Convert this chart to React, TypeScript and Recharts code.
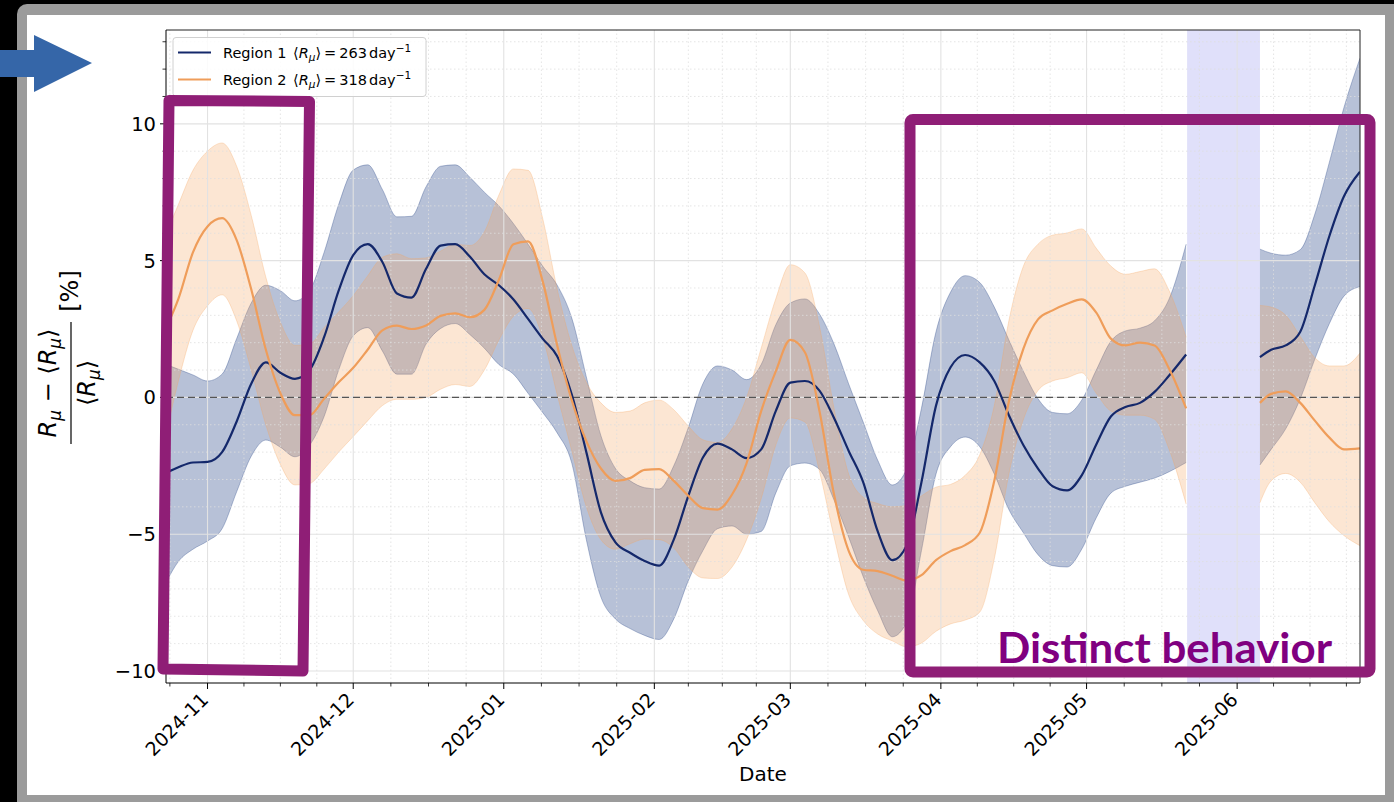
import React from 'react';
import {
  ComposedChart,
  Area,
  Line,
  XAxis,
  YAxis,
  ReferenceLine,
  ReferenceArea,
} from 'recharts';

// x = days since 2024-11-01
const days = [
  -8.5, -6, -3, 0, 3, 6, 9, 12, 15, 18,
  21, 24, 27, 30, 33, 36, 39, 42, 45, 48,
  51, 54, 57, 60, 63, 66, 69, 72, 75, 78,
  81, 84, 87, 90, 93, 96, 99, 102, 105, 108,
  111, 114, 117, 120, 123, 126, 129, 132, 135, 138,
  141, 144, 147, 150, 153, 156, 159, 162, 165, 168,
  171, 174, 177, 180, 183, 186, 189, 192, 195, 198,
  201.5, 209, 216.7, 219, 222, 225, 228, 231, 234, 237.3,
];

const region1Mean = [
  -2.75, -2.55, -2.38, -2.36, -2.0, -0.88, 0.5, 1.28, 0.9, 0.68,
  1.0, 2.2, 3.9, 5.2, 5.6, 4.95, 3.8, 3.65, 4.7, 5.55,
  5.6, 5.15, 4.5, 4.1, 3.58, 2.87, 2.15, 1.5, 0.1, -2.0,
  -4.2, -5.3, -5.68, -5.98, -6.15, -5.2, -3.6, -2.2, -1.69, -1.9,
  -2.22, -1.9, -0.5, 0.54, 0.6, 0.25, -0.75, -1.95, -3.1, -4.9,
  -5.95, -5.4, -3.1, -0.3, 1.1, 1.55, 1.28, 0.6, -0.65, -1.75,
  -2.6, -3.25, -3.4, -2.85, -1.72, -0.7, -0.35, -0.2, 0.2, 0.8,
  1.57, null, 1.47, 1.74, 1.9, 2.4, 4.1, 5.9, 7.35, 8.25,
];
const region1Upper = [
  1.2, 1.03, 0.82, 0.6, 0.85, 2.15, 3.45, 4.1, 3.9, 3.53,
  3.9, 5.3, 7.05, 8.31, 8.5, 7.6, 6.6, 6.62, 7.7, 8.45,
  8.5, 8.05, 7.5, 7.0, 6.35, 5.6, 4.8, 4.1, 2.9, 0.75,
  -1.4, -2.6, -3.05, -3.3, -3.35, -2.5, -1.1, 0.5, 1.15, 1.0,
  0.65, 1.2, 2.65, 3.45, 3.6, 3.05, 1.95, 0.5, -0.9, -2.3,
  -3.2, -2.6, -0.4, 2.4, 3.85, 4.45, 4.2, 3.3, 2.1, 0.95,
  -0.05, -0.55, -0.6, -0.1, 1.0, 2.05, 2.43, 2.53, 2.8, 3.6,
  5.6, null, 5.42, 5.27, 5.2, 5.4, 6.7, 8.6, 10.6, 12.4,
];
const region1Lower = [
  -6.75, -6.0, -5.55, -5.25, -4.8, -3.45, -2.15, -1.56, -1.82, -2.17,
  -1.75, -0.7, 1.0, 2.25, 2.55, 1.7, 0.85, 0.85, 1.95, 2.52,
  2.7, 2.3, 1.8, 1.2, 0.85, 0.15, -0.55, -1.3, -2.4, -5.2,
  -7.3, -8.1, -8.45, -8.7, -8.85, -8.1, -6.7, -5.6, -4.8, -4.7,
  -5.0, -4.9, -3.5, -2.5, -2.4, -2.63, -3.75, -5.1, -6.55, -7.8,
  -8.75, -8.2, -5.6, -2.8, -1.8, -1.45, -1.8, -2.8, -4.1, -4.95,
  -5.75, -6.15, -6.2, -5.55, -4.4, -3.5, -3.25, -3.1, -2.95, -2.72,
  -2.38, null, -2.47, -1.9, -1.15, -0.05, 1.4, 2.7, 3.7, 4.05,
];

const region2Mean = [
  2.55, 3.6, 5.3, 6.25, 6.55, 5.75, 3.95, 1.75, 0.15, -0.65,
  -0.65, -0.05, 0.55, 1.08, 1.75, 2.45, 2.62, 2.5, 2.63, 2.98,
  3.07, 2.93, 3.2, 4.3, 5.6, 5.7, 4.25, 1.9, -0.1, -1.6,
  -2.6, -3.05, -2.95, -2.65, -2.62, -3.05, -3.6, -4.05, -4.1, -3.55,
  -2.4, -0.5, 0.95, 2.1, 1.65, -0.5, -3.55, -5.6, -6.3, -6.35,
  -6.52, -6.69, -6.5, -5.95, -5.62, -5.4, -4.95, -3.05, -0.15, 1.78,
  2.85, 3.18, 3.42, 3.58, 3.1, 2.15, 1.9, 2.0, 1.9, 1.05,
  -0.4, null, -0.2, 0.13, 0.22, -0.2, -0.85, -1.47, -1.9, -1.86,
];
const region2Upper = [
  6.0, 7.05, 8.3, 9.0, 9.3, 8.45, 6.65, 4.4, 2.75, 1.9,
  1.95, 2.55, 3.12, 3.72, 4.45, 5.12, 5.25, 5.07, 5.1, 5.35,
  5.6, 5.55, 6.05, 7.4, 8.35, 8.3, 6.55, 3.95, 1.9, 0.55,
  -0.2, -0.55, -0.5, -0.2, -0.1, -0.45, -1.05, -1.55, -1.65, -1.15,
  0.0, 1.8, 3.6, 4.85, 4.55, 2.6, -0.4, -2.8, -3.65, -3.88,
  -4.0, -3.95, -3.6, -3.28, -3.18, -2.85, -2.1, -0.3, 2.8, 4.8,
  5.6, 5.93, 6.01, 6.16, 5.45, 4.8, 4.5, 4.6, 4.7, 3.9,
  2.2, null, 3.36, 3.3, 3.0, 2.23, 1.45, 1.15, 1.15, 1.62,
];
const region2Lower = [
  -1.3, 0.6, 2.45, 3.35, 3.75, 2.8, 1.0, -1.0, -2.45, -3.2,
  -3.15, -2.62, -2.0, -1.43, -0.85, -0.3, -0.07, -0.07, 0.0, 0.3,
  0.47, 0.4, 1.0, 2.1, 2.97, 3.25, 2.2, 0.1, -1.95, -4.0,
  -5.2, -5.55, -5.35, -5.18, -5.2, -5.5, -6.2, -6.6, -6.62, -6.2,
  -5.2, -3.7, -1.75, -0.75, -0.9, -2.7, -5.1, -7.2, -8.15, -8.65,
  -8.9, -9.12, -8.98, -8.55, -8.28, -8.14, -7.85, -5.9, -2.8, -0.8,
  0.25, 0.6, 0.72, 0.9, 0.15, -0.5, -0.65, -0.65, -0.8, -1.9,
  -3.9, null, -3.85, -3.05, -2.78, -3.1, -3.85, -4.55, -5.05, -5.42,
];

const monthTicks = [0, 30, 61, 92, 120, 151, 181, 212];
const monthLabels = ['2024-11', '2024-12', '2025-01', '2025-02', '2025-03', '2025-04', '2025-05', '2025-06'];
const minorDayTicks = [
  -7.75, 7.5, 15, 22.5, 37.75, 45.5, 53.25, 68.75, 76.5, 84.25,
  99, 106, 113, 127.75, 135.5, 143.25, 158.5, 166, 173.5,
  188.75, 196.5, 204.25, 219.5, 227, 234.5,
];
const yMajorTicks = [-10, -5, 0, 5, 10];
const yMinorTicks = [-9, -8, -7, -6, -4, -3, -2, -1, 1, 2, 3, 4, 6, 7, 8, 9, 11, 12, 13];
const missingSpan = [201.7, 216.7];

const X_MIN = -8.55;
const X_MAX = 237.3;
const Y_MIN = -10.44;
const Y_MAX = 13.43;

const data = days.map((d, i) => ({
  day: d,
  m1: region1Mean[i],
  b1: region1Upper[i] == null ? null : [region1Lower[i], region1Upper[i]],
  m2: region2Mean[i],
  b2: region2Upper[i] == null ? null : [region2Lower[i], region2Upper[i]],
}));

const FONT = 'DejaVu Sans';

const XTick = ({ x, y, payload }: any) => {
  const idx = monthTicks.indexOf(payload.value);
  if (idx < 0) {
    return <line x1={x} x2={x} y1={y} y2={y + 3.5} stroke="#000" strokeWidth={0.8} />;
  }
  return (
    <g>
      <line x1={x} x2={x} y1={y} y2={y + 6} stroke="#000" strokeWidth={1} />
      <text
        x={x + 2}
        y={y + 18}
        textAnchor="end"
        fontSize={19}
        fontFamily={FONT}
        fill="#000"
        transform={`rotate(-45 ${x + 2} ${y + 18})`}
      >
        {monthLabels[idx]}
      </text>
    </g>
  );
};

const YTick = ({ x, y, payload }: any) => {
  const v = payload.value;
  if (!yMajorTicks.includes(v)) {
    return <line x1={x - 3.5} x2={x} y1={y} y2={y} stroke="#000" strokeWidth={0.8} />;
  }
  return (
    <g>
      <line x1={x - 6} x2={x} y1={y} y2={y} stroke="#000" strokeWidth={1} />
      <text x={x - 10} y={y + 7} textAnchor="end" fontSize={19.5} fontFamily={FONT} fill="#000">
        {v < 0 ? `\u2212${Math.abs(v)}` : `${v}`}
      </text>
    </g>
  );
};

const Sub = ({ children }: any) => (
  <tspan fontStyle="italic" fontSize="0.7em" dy={5}>
    {children}
  </tspan>
);

const LegendMath = ({ y, value }: any) => (
  <text x={293} y={y} fontSize={14.5} fill="#000">
    {'\u27E8'}
    <tspan fontStyle="italic">R</tspan>
    <tspan fontStyle="italic" fontSize={10.5} dy={3}>μ</tspan>
    <tspan dy={-3}>{'\u27E9'}</tspan>
    <tspan dx={3}>=</tspan>
    <tspan dx={3}>{value}</tspan>
    <tspan dx={2}>day</tspan>
    <tspan fontSize={10.5} dy={-6}>{'\u22121'}</tspan>
  </text>
);

const App = () => {
  return (
    <div
      style={{
        position: 'absolute',
        left: 0,
        top: 0,
        width: 1394,
        height: 802,
        background: '#000',
        overflow: 'hidden',
        fontFamily: FONT,
      }}
    >
      <div
        style={{
          position: 'absolute',
          left: 17,
          top: 4,
          width: 1400,
          height: 820,
          background: '#9b9b9b',
          borderRadius: 10,
        }}
      />
      <div style={{ position: 'absolute', left: 27, top: 15, width: 1358, height: 780, background: '#fff' }} />

      <div style={{ position: 'absolute', left: 0, top: 0 }}>
        <ComposedChart
          width={1394}
          height={802}
          data={data}
          margin={{ top: 30, right: 34, left: 106, bottom: 69 }}
        >
          <XAxis
            dataKey="day"
            type="number"
            domain={[X_MIN, X_MAX]}
            ticks={[...monthTicks, ...minorDayTicks]}
            interval={0}
            allowDataOverflow
            tickLine={false}
            tickSize={0}
            tickMargin={0}
            tick={XTick}
            axisLine={{ stroke: '#000', strokeWidth: 1 }}
            height={50}
          />
          <YAxis
            type="number"
            domain={[Y_MIN, Y_MAX]}
            ticks={[...yMajorTicks, ...yMinorTicks]}
            interval={0}
            allowDataOverflow
            tickLine={false}
            tickSize={0}
            tickMargin={0}
            tick={YTick}
            axisLine={{ stroke: '#000', strokeWidth: 1 }}
            width={60}
          />

          <ReferenceArea x1={missingSpan[0]} x2={missingSpan[1]} y1={Y_MIN} y2={Y_MAX} fill="#e0e0fa" fillOpacity={1} stroke="none" />

          {minorDayTicks.map((t) => (
            <ReferenceLine key={`vx${t}`} x={t} stroke="#dedede" strokeWidth={0.8} strokeDasharray="1.5 2.5" />
          ))}
          {yMinorTicks.map((t) => (
            <ReferenceLine key={`hy${t}`} y={t} stroke="#dedede" strokeWidth={0.8} strokeDasharray="1.5 2.5" />
          ))}
          {monthTicks.map((t) => (
            <ReferenceLine key={`VX${t}`} x={t} stroke="#e2e2e2" strokeWidth={1.1} />
          ))}
          {yMajorTicks.map((t) => (
            <ReferenceLine key={`HY${t}`} y={t} stroke="#e2e2e2" strokeWidth={1.1} />
          ))}

          <Area
            dataKey="b1"
            type="monotone"
            fill="#2d4a8a"
            fillOpacity={0.34}
            stroke="#2d4a8a"
            strokeOpacity={0.35}
            strokeWidth={1}
            dot={false}
            activeDot={false}
            isAnimationActive={false}
          />
          <Area
            dataKey="b2"
            type="monotone"
            fill="#f4a460"
            fillOpacity={0.28}
            stroke="#f4a460"
            strokeOpacity={0.3}
            strokeWidth={1}
            dot={false}
            activeDot={false}
            isAnimationActive={false}
          />

          <ReferenceLine y={0} stroke="#555" strokeWidth={1.3} strokeDasharray="7 4" />

          <Line dataKey="m1" type="monotone" stroke="#14286b" strokeWidth={2.2} dot={false} activeDot={false} isAnimationActive={false} />
          <Line dataKey="m2" type="monotone" stroke="#ef9d5a" strokeWidth={2.2} dot={false} activeDot={false} isAnimationActive={false} />

          <ReferenceLine y={Y_MAX} stroke="#222" strokeWidth={1} />
          <ReferenceLine x={X_MAX} stroke="#222" strokeWidth={1} />
        </ComposedChart>
      </div>

      <svg
        width={1394}
        height={802}
        style={{ position: 'absolute', left: 0, top: 0, pointerEvents: 'none' }}
        fontFamily={FONT}
      >
        {/* legend */}
        <rect x={173} y={37.5} width={253} height={59} rx={3} fill="#fff" fillOpacity={0.85} stroke="#d0d0d0" />
        <line x1={178} x2={211} y1={52.5} y2={52.5} stroke="#14286b" strokeWidth={2.2} />
        <line x1={178} x2={211} y1={79.5} y2={79.5} stroke="#ef9d5a" strokeWidth={2.2} />
        <text x={223} y={58} fontSize={14.5} fill="#000">Region 1</text>
        <LegendMath y={58} value="263" />
        <text x={223} y={85} fontSize={14.5} fill="#000">Region 2</text>
        <LegendMath y={85} value="318" />

        {/* axis labels */}
        <text x={763} y={781} textAnchor="middle" fontSize={20} fill="#000">Date</text>
        <g transform="translate(71 383) rotate(-90)" fill="#000">
          <text x={0} y={-15} textAnchor="middle" fontSize={24}>
            <tspan fontStyle="italic">R</tspan>
            <Sub>μ</Sub>
            <tspan dy={-5}>{' \u2212 \u27E8'}</tspan>
            <tspan fontStyle="italic">R</tspan>
            <Sub>μ</Sub>
            <tspan dy={-5}>{'\u27E9'}</tspan>
          </text>
          <line x1={-61} x2={61} y1={0} y2={0} stroke="#000" strokeWidth={1.2} />
          <text x={0} y={24} textAnchor="middle" fontSize={24}>
            {'\u27E8'}
            <tspan fontStyle="italic">R</tspan>
            <Sub>μ</Sub>
            <tspan dy={-5}>{'\u27E9'}</tspan>
          </text>
          <text x={92} y={7} textAnchor="middle" fontSize={24}>[%]</text>
        </g>

        {/* slide annotations */}
        <polygon points="0,50 34,50 34,35 92,63 34,92 34,77 0,77" fill="#3566a8" />
        <polygon
          points="169,100.5 309.5,101.5 303,671 163,669"
          fill="none"
          stroke="#8f1e76"
          strokeWidth={11}
          strokeLinejoin="round"
        />
        <rect x={910} y={119.5} width={460} height={552.5} rx={3} fill="none" stroke="#8f1e76" strokeWidth={11} />
        <text
          x={997}
          y={663}
          fontFamily="Lato"
          fontWeight={700}
          fontSize={42}
          fill="#800080"
          textLength={335}
          lengthAdjust="spacingAndGlyphs"
        >
          Distinct behavior
        </text>
      </svg>
    </div>
  );
};

export default App;
